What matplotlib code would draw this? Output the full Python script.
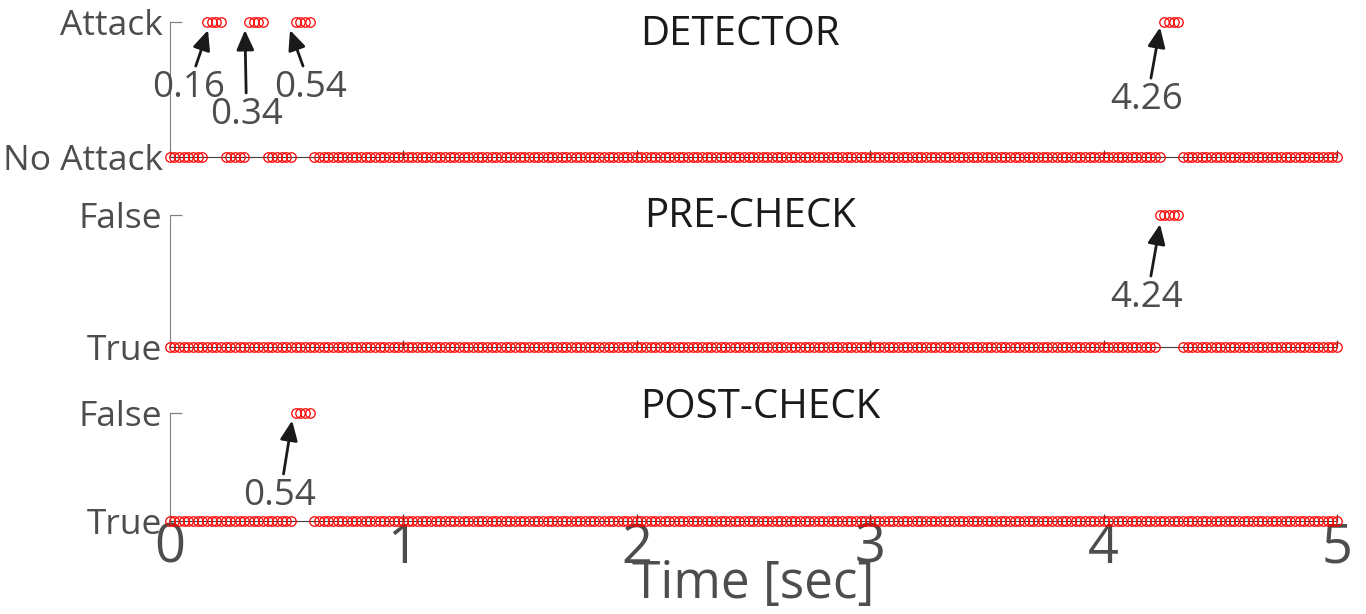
import numpy as np
import matplotlib
matplotlib.use('Agg')
import matplotlib.pyplot as plt

plt.rcParams['font.family'] = ['Open Sans', 'DejaVu Sans']

# sample times (sampling step 0.02 s, 0..5 s)
t = np.round(np.arange(0, 5.0001, 0.02), 2)

# samples flagged in each panel
detector_attack = [0.16, 0.18, 0.20, 0.22,
                   0.34, 0.36, 0.38, 0.40,
                   0.54, 0.56, 0.58, 0.60,
                   4.26, 4.28, 4.30, 4.32]
precheck_false = [4.24, 4.26, 4.28, 4.30, 4.32]
postcheck_false = [0.54, 0.56, 0.58, 0.60]

titles = ['DETECTOR', 'PRE-CHECK', 'POST-CHECK']
ylabels = [['No Attack', 'Attack'], ['True', 'False'], ['True', 'False']]
xticks = [0, 1, 2, 3, 4, 5]

# annotations: (label, arrow tip (t, y), text centre (t, y))
notes = [
    [('0.16', (0.165, 0.94), (0.08, 0.51)),
     ('0.34', (0.323, 0.94), (0.33, 0.31)),
     ('0.54', (0.516, 0.94), (0.606, 0.51)),
     ('4.26', (4.242, 0.96), (4.186, 0.42))],
    [('4.24', (4.242, 0.93), (4.186, 0.37))],
    [('0.54', (0.525, 0.93), (0.473, 0.23))],
]

positions = [
    [0.1241, 0.7443, 0.8547, 0.2199],
    [0.1241, 0.4349, 0.8547, 0.2150],
    [0.1241, 0.1515, 0.8547, 0.1759],
]
title_pos = [(0.489, 0.904), (0.497, 0.99), (0.506, 1.046)]

gray = '#4d4d4d'
dark = '#1a1a1a'

fig = plt.figure(figsize=(13.66, 6.14), dpi=100)

flags = [detector_attack, precheck_false, postcheck_false]
for i in range(3):
    ax = fig.add_axes(positions[i])
    state = np.isin(t, np.round(flags[i], 2)).astype(int)
    ax.plot(t, state, 'o', mfc='none', mec='red', ms=6.8, mew=0.9,
            linestyle='none', clip_on=False, zorder=3)
    ax.set_xlim(0, 5)
    ax.set_ylim(0, 1)
    ax.set_yticks([0, 1])
    ax.set_yticklabels(ylabels[i])
    ax.set_xticks(xticks)
    for s in ['top', 'right']:
        ax.spines[s].set_visible(False)
    ax.spines['left'].set_color('#808080')
    ax.spines['bottom'].set_color('#404040')
    ax.tick_params(axis='y', direction='in', length=8.5, width=0.9,
                   colors='#808080', labelcolor=gray, labelsize=25.5, pad=5)
    ax.tick_params(axis='x', direction='in', length=5, width=0.9,
                   colors='#404040', labelcolor=gray, labelsize=39, pad=0)
    if i < 2:
        ax.set_xticklabels([])
    else:
        ax.set_xlabel('Time [sec]', fontsize=37, color=gray, labelpad=-12)
    ax.text(title_pos[i][0], title_pos[i][1], titles[i], transform=ax.transAxes,
            ha='center', va='center', fontsize=29, color=dark)
    for lab, tip, txt in notes[i]:
        ax.annotate(lab, xy=tip, xytext=txt, ha='center', va='center',
                    fontsize=26.5, color=gray, annotation_clip=False,
                    arrowprops=dict(arrowstyle='-|>,head_length=0.45,head_width=0.2',
                                    lw=2, color=dark, shrinkA=1, shrinkB=0))

fig.savefig('out.png', dpi=100)
